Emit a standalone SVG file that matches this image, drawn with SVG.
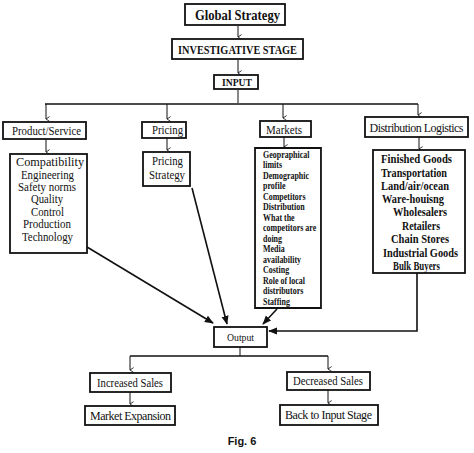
<svg xmlns="http://www.w3.org/2000/svg" width="474" height="453" viewBox="0 0 474 453">
<defs>
<marker id="v" viewBox="0 0 10 10" refX="5" refY="9" markerWidth="6" markerHeight="6" orient="auto-start-reverse" markerUnits="userSpaceOnUse">
<path d="M1,3 L5,9 L9,3" fill="none" stroke="#111" stroke-width="1.4"/>
</marker>
<marker id="tri" viewBox="0 0 10 10" refX="9" refY="5" markerWidth="9" markerHeight="9" orient="auto" markerUnits="userSpaceOnUse">
<path d="M0,1 L10,5 L0,9 Z" fill="#111"/>
</marker>
<style>
rect{fill:#fff;stroke:#111;stroke-width:1.8}
text{font-family:"Liberation Serif","Times New Roman",serif;fill:#111}
.c{text-anchor:middle}
.h{font-size:12px}
.b{font-weight:bold}
.s{stroke:#111;stroke-width:1;fill:none}
.t{stroke:#111;stroke-width:1.6;fill:none}
.m{font-size:9.5px;font-weight:bold}
.d{font-size:12px;font-weight:bold}
.p{font-size:11.5px}
</style>
</defs>
<rect x="0" y="0" width="474" height="453" style="fill:#fff;stroke:none"/>

<g id="connectors">
<line class="s" x1="238" y1="26" x2="238" y2="37" marker-end="url(#v)"/>
<line class="s" x1="238" y1="60" x2="238" y2="73" marker-end="url(#v)"/>
<line class="s" x1="238" y1="90" x2="238" y2="103"/>
<line x1="45" y1="104" x2="418" y2="104" stroke="#111" stroke-width="1.6"/>
<line class="s" x1="46" y1="104" x2="46" y2="119" marker-end="url(#v)"/>
<line class="s" x1="167" y1="104" x2="167" y2="119" marker-end="url(#v)"/>
<line class="s" x1="283" y1="104" x2="283" y2="118" marker-end="url(#v)"/>
<line class="s" x1="418" y1="104" x2="418" y2="115" marker-end="url(#v)"/>
<line class="s" x1="46" y1="139" x2="46" y2="152" marker-end="url(#v)"/>
<line class="s" x1="167" y1="138" x2="167" y2="150" marker-end="url(#v)"/>
<line class="s" x1="284" y1="137" x2="284" y2="147" marker-end="url(#v)"/>
<line class="s" x1="419" y1="137" x2="419" y2="149" marker-end="url(#v)"/>
<line class="t" x1="87" y1="247" x2="213" y2="323" marker-end="url(#tri)"/>
<line class="t" x1="192" y1="188" x2="227" y2="324" marker-end="url(#tri)"/>
<line class="t" x1="277" y1="309" x2="263" y2="324" marker-end="url(#tri)"/>
<polyline class="t" points="417,273 417,331 269,331" marker-end="url(#tri)"/>
<line class="s" x1="240" y1="347" x2="240" y2="356"/>
<line x1="130" y1="356" x2="328" y2="356" stroke="#111" stroke-width="1.6"/>
<line class="s" x1="130" y1="356" x2="130" y2="370" marker-end="url(#v)"/>
<line class="s" x1="328" y1="356" x2="328" y2="369" marker-end="url(#v)"/>
<line class="s" x1="130" y1="392" x2="130" y2="404" marker-end="url(#v)"/>
<line class="s" x1="328" y1="390" x2="328" y2="403" marker-end="url(#v)"/>
</g>

<g id="global-strategy">
<rect x="185" y="4" width="100" height="21"/>
<text class="c b" x="237.5" y="20" font-size="14" textLength="85" lengthAdjust="spacingAndGlyphs">Global Strategy</text>
</g>
<g id="investigative-stage">
<rect x="172" y="39" width="131" height="20"/>
<text class="c b" x="237.5" y="54" font-size="11.5" textLength="119" lengthAdjust="spacingAndGlyphs">INVESTIGATIVE STAGE</text>
</g>
<g id="input">
<rect x="214" y="75" width="44" height="14"/>
<text class="c b" x="237" y="86" font-size="11" textLength="30" lengthAdjust="spacingAndGlyphs">INPUT</text>
</g>

<g id="product-service">
<rect x="3" y="122" width="83" height="17"/>
<text class="c h" x="46.5" y="134.5" textLength="69" lengthAdjust="spacingAndGlyphs">Product/Service</text>
</g>
<g id="pricing">
<rect x="142" y="122" width="44" height="16"/>
<text class="c h" x="167.5" y="134" textLength="31" lengthAdjust="spacingAndGlyphs">Pricing</text>
</g>
<g id="markets">
<rect x="260" y="121" width="51" height="16"/>
<text class="c h" x="284" y="133.5" textLength="36" lengthAdjust="spacingAndGlyphs">Markets</text>
</g>
<g id="distribution-logistics">
<rect x="365" y="117" width="103" height="20"/>
<text class="c h" x="416.5" y="131.5" textLength="94" lengthAdjust="spacing">Distribution Logistics</text>
</g>

<g id="product-details">
<rect x="10" y="154" width="77" height="99"/>
<text class="c p" x="50" y="166" textLength="68" lengthAdjust="spacingAndGlyphs">Compatibility</text>
<text class="c p" x="47.5" y="178.5" textLength="53" lengthAdjust="spacingAndGlyphs">Engineering</text>
<text class="c p" x="47" y="191" textLength="58" lengthAdjust="spacingAndGlyphs">Safety norms</text>
<text class="c p" x="47" y="203" textLength="32" lengthAdjust="spacingAndGlyphs">Quality</text>
<text class="c p" x="47.5" y="215.5" textLength="33" lengthAdjust="spacingAndGlyphs">Control</text>
<text class="c p" x="47" y="228" textLength="48" lengthAdjust="spacingAndGlyphs">Production</text>
<text class="c p" x="47.5" y="240.5" textLength="51" lengthAdjust="spacingAndGlyphs">Technology</text>
</g>

<g id="pricing-strategy">
<rect x="143" y="152" width="47" height="34"/>
<text class="c p" x="167.5" y="165" textLength="31" lengthAdjust="spacingAndGlyphs">Pricing</text>
<text class="c p" x="167" y="179" textLength="36" lengthAdjust="spacingAndGlyphs">Strategy</text>
</g>

<g id="markets-details" transform="translate(263,0) scale(0.84,1) translate(-263,0)">
<rect x="253.5" y="148" width="78.5" height="160" style="stroke-width:1.8;vector-effect:non-scaling-stroke"/>
<text class="m" x="263" y="158">Geopraphical</text>
<text class="m" x="263" y="168.5">limits</text>
<text class="m" x="263" y="179">Demographic</text>
<text class="m" x="263" y="189.5">profile</text>
<text class="m" x="263" y="200">Competitors</text>
<text class="m" x="263" y="210.5">Distribution</text>
<text class="m" x="263" y="221">What the</text>
<text class="m" x="263" y="231.5">competitors are</text>
<text class="m" x="263" y="242">doing</text>
<text class="m" x="263" y="252.5">Media</text>
<text class="m" x="263" y="263">availability</text>
<text class="m" x="263" y="273.5">Costing</text>
<text class="m" x="263" y="284">Role of local</text>
<text class="m" x="263" y="294.5">distributors</text>
<text class="m" x="263" y="305">Staffing</text>
</g>

<g id="distribution-details">
<rect x="373" y="150" width="92" height="123"/>
<text class="d" x="381" y="163" textLength="71" lengthAdjust="spacingAndGlyphs">Finished Goods</text>
<text class="d" x="381" y="176.5" textLength="66" lengthAdjust="spacingAndGlyphs">Transportation</text>
<text class="d" x="381" y="189.5" textLength="68" lengthAdjust="spacingAndGlyphs">Land/air/ocean</text>
<text class="d" x="382" y="203" textLength="62" lengthAdjust="spacingAndGlyphs">Ware-houisng</text>
<text class="d" x="393" y="216" textLength="54" lengthAdjust="spacingAndGlyphs">Wholesalers</text>
<text class="d" x="402" y="230" textLength="38" lengthAdjust="spacingAndGlyphs">Retailers</text>
<text class="d" x="391" y="243" textLength="58" lengthAdjust="spacingAndGlyphs">Chain Stores</text>
<text class="d" x="383" y="257" textLength="75" lengthAdjust="spacingAndGlyphs">Industrial Goods</text>
<text class="d" x="393" y="270" textLength="47" lengthAdjust="spacingAndGlyphs">Bulk Buyers</text>
</g>

<g id="output">
<rect x="214" y="327" width="53" height="20"/>
<text class="c" x="240.5" y="341" font-size="11" textLength="27" lengthAdjust="spacingAndGlyphs">Output</text>
</g>

<g id="increased-sales">
<rect x="90" y="373" width="81" height="19"/>
<text class="c h" x="130" y="386.5" textLength="66" lengthAdjust="spacingAndGlyphs">Increased Sales</text>
</g>
<g id="market-expansion">
<rect x="85" y="406" width="90" height="19"/>
<text class="c h" x="130.5" y="420" textLength="81" lengthAdjust="spacing">Market Expansion</text>
</g>
<g id="decreased-sales">
<rect x="287" y="372" width="83" height="18"/>
<text class="c h" x="328" y="385" textLength="70" lengthAdjust="spacingAndGlyphs">Decreased Sales</text>
</g>
<g id="back-to-input">
<rect x="280" y="405" width="98" height="20"/>
<text class="c h" x="328.5" y="419" textLength="87" lengthAdjust="spacing">Back to Input Stage</text>
</g>

<text x="242" y="445" text-anchor="middle" font-size="11" font-weight="bold" style="font-family:'Liberation Sans',Arial,sans-serif">Fig. 6</text>
</svg>
